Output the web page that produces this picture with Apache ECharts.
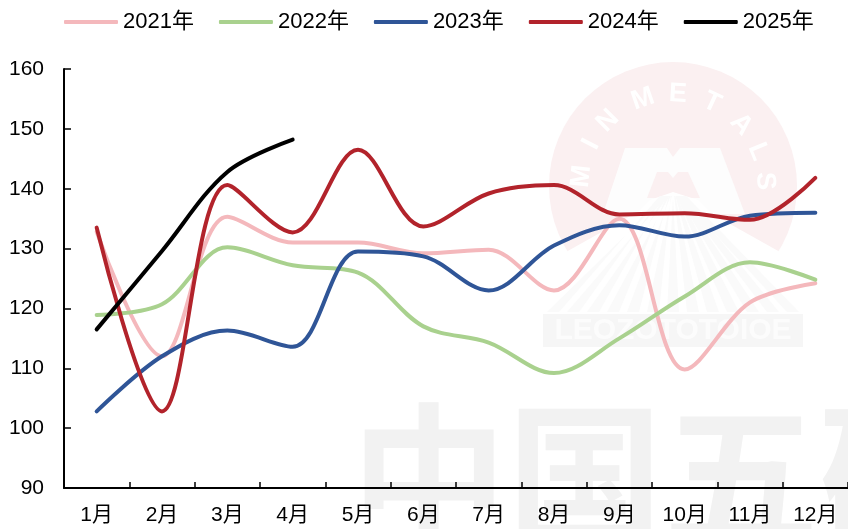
<!DOCTYPE html>
<html><head><meta charset="utf-8">
<style>html,body{margin:0;padding:0;background:#fff}#c{width:848px;height:529px}</style>
<script src="https://cdn.jsdelivr.net/npm/echarts@6/dist/echarts.min.js"></script></head>
<body><div id="c"></div>
<script>
const months=['1月','2月','3月','4月','5月','6月','7月','8月','9月','10月','11月','12月'];
const v2021=[132.8,112,135.3,131,131,129.2,129.8,123,135,109.8,121,124.2];
const v2022=[118.9,120.7,130.2,127.2,126,117,114.3,109.2,115,122,127.7,124.8];
const v2023=[102.8,112,116.3,113.6,129.5,128.7,123,130.5,133.9,132,135.5,136];
const v2024=[133.5,102.8,140.6,132.7,146.5,133.7,139.2,140.6,135.7,135.9,134.8,141.8];
const v2025=[116.5,129.6,142.8,148.2];
const FONT='"Liberation Sans","Noto Sans CJK SC",sans-serif';
const names=['2021年','2022年','2023年','2024年','2025年'];
const colors=['#f4b8bc','#a9d18e','#2f5597','#b2232b','#000000'];
const values=[v2021,v2022,v2023,v2024,v2025];

// watermark
const wm=[];
wm.push({type:'circle',shape:{cx:673,cy:186,r:124},style:{fill:'#fbf0f1'}});
wm.push({type:'polygon',shape:{points:[[673,192],[780,252],[812,314],[536,314],[566,252]]},style:{fill:'#ffffff'}});
wm.push({type:'polygon',shape:{points:[[625,148],[667,148],[673,157],[680,148],[720,148],[745,214],[603,214]]},style:{fill:'#fdfdfd'}});
wm.push({type:'polygon',shape:{points:[[647,198],[657,172],[668,172],[673,178],[678,172],[688,172],[700,198]]},style:{fill:'#fbf0f1'}});
wm.push({type:'polygon',shape:{points:[[673,192],[698,200],[712,214],[636,214],[650,200]]},style:{fill:'#ffffff'}});
for(let i=-6;i<=6;i++){
  const bx=673+i*20;
  wm.push({type:'polygon',shape:{points:[[673+i*1.2,196],[673+i*2.2,196],[bx+6,312],[bx-6,312]]},style:{fill:'#fafafa'}});
}
wm.push({type:'rect',shape:{x:543,y:314,width:260,height:33},style:{fill:'#f6f6f6'}});
wm.push({type:'text',x:673,y:331,style:{text:'LEOZOTOTOIOE',font:'bold 30px '+FONT,fill:'#fcfcfc',align:'center',verticalAlign:'middle',letterSpacing:2}});
const arc='MINMETALS'.split('');
const arcAng=[-84,-63,-45,-19,3,25,48,68,87];
arc.forEach((ch,i)=>{
  const a=arcAng[i]*Math.PI/180;
  wm.push({type:'text',x:673+92*Math.sin(a),y:186-92*Math.cos(a),rotation:-a,
    style:{text:ch,font:'bold 27px '+FONT,fill:'#ffffff',align:'center',verticalAlign:'middle'}});
});
wm.push({type:'text',x:351,y:398,style:{text:'中国五矿',font:'bold 156px "Noto Sans CJK SC"',fill:'#f2f2f2'}});

const chart=echarts.init(document.getElementById('c'),null,{renderer:'canvas'});
chart.setOption({
  animation:false,
  backgroundColor:'#fff',
  graphic:{elements:[{type:'group',z:-10,silent:true,children:wm}]},
  legend:{left:59,top:6,itemWidth:54,itemHeight:4,itemGap:25,icon:'roundRect',
    data:names,
    textStyle:{fontFamily:FONT,fontSize:22,color:'#000'}},
  grid:{left:64,right:0,top:69,bottom:41},
  xAxis:{type:'category',data:months,boundaryGap:true,
    axisLine:{lineStyle:{color:'#000',width:2}},
    axisTick:{show:true,inside:true,length:6,alignWithLabel:false,lineStyle:{color:'#000',width:1.5}},
    axisLabel:{fontFamily:FONT,fontSize:21,color:'#000',margin:17,interval:0}},
  yAxis:{type:'value',min:90,max:160,interval:10,
    splitLine:{show:false},
    axisLine:{show:true,lineStyle:{color:'#000',width:2}},
    axisTick:{show:true,inside:true,length:7,lineStyle:{color:'#000',width:1.5}},
    axisLabel:{fontFamily:FONT,fontSize:21,color:'#000',margin:20}},
  series:names.map((n,i)=>({name:n,type:'line',data:values[i],smooth:0.34,showSymbol:false,symbol:'none',
    itemStyle:{color:colors[i]},
    lineStyle:{color:colors[i],width:4,cap:'round',join:'round'}}))
});
</script></body></html>
